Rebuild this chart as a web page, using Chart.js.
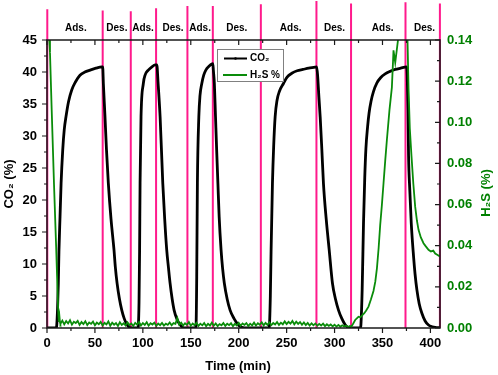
<!DOCTYPE html>
<html><head><meta charset="utf-8">
<script src="https://cdn.jsdelivr.net/npm/chart.js@4.4.0/dist/chart.umd.min.js"></script>
<style>html,body{margin:0;padding:0;background:#fff;}#wrap{width:498px;height:375px;}</style>
</head><body><div id="wrap"><canvas id="c" width="498" height="375"></canvas></div>
<script>
// CO2 (%) vs time (min)
const co2Time = [0, 9.5, 10.1, 11, 11.8, 12.5, 13.6, 14.7, 16.4, 18, 19.8, 22.5, 25.8, 29.5, 34.4, 39.5, 44.9, 51, 57.1, 58.1, 58.8, 60.5, 62, 64, 66.8, 69.9, 71.3, 73.1, 75.5, 78, 80.5, 83.5, 86, 88,
 95, 95.3, 96, 96.6, 97.1, 98.1, 100.5, 102.5, 105.7, 109.5, 112.7, 114.6, 115.8, 118, 120.8, 122.8, 124.9, 126.8, 128.4, 130.5, 132.6, 135.5, 138.8, 141.5, 144, 155,
 155.5, 156.2, 156.9, 158.4, 159.6, 161.5, 163.5, 165.7, 169, 171.9, 173, 173.6, 174.6, 175.8, 177, 178.3, 179.6, 181.6, 183.2, 185, 188, 191, 195, 199.5, 203, 206, 231.5,
 232, 233, 233.8, 235.2, 236.5, 238, 240, 242.5, 246.7, 250.5, 255.4, 261, 267, 273, 279.7, 281.3, 282.3, 283.5, 285, 286.7, 288.4, 291.3, 294.4, 297.8, 301, 304.1, 307.5, 311.1, 314, 317, 327,
 327.5, 328.8, 330.2, 331.5, 332.7, 334.5, 336, 338, 340.5, 344.2, 348, 352.8, 358, 363.3, 369, 375, 375.8, 376.6, 377.2, 378.5, 380, 382.4, 384, 385.9, 388.3, 391.1, 394.5, 398, 402, 405, 410];
const co2Values = [0, 0, 0.3, 3, 7, 12.2, 17.4, 22.6, 27.8, 31, 33, 35.4, 37.2, 38.4, 39.5, 40.0, 40.3, 40.6, 40.8, 40.8, 38.2, 33, 28, 22.6, 17, 12.2, 9.5, 7, 4.6, 2.8, 1.5, 0.5, 0.1, 0,
 0, 0.3, 4, 12, 22.6, 33, 38.2, 39.6, 40.3, 40.8, 41.1, 41.1, 38.5, 33, 22.6, 17, 12.2, 9.3, 7, 4.6, 2.8, 1.4, 0.5, 0.1, 0, 0,
 0.3, 8, 22.6, 33, 36.3, 38.2, 39.5, 40.3, 40.9, 41.25, 41.3, 40.2, 38.2, 33, 27.8, 22.6, 17.4, 12.2, 9.3, 7, 4.5, 2.8, 1.5, 0.5, 0.1, 0, 0,
 0.3, 5, 12.2, 22.6, 28.5, 33, 35.6, 37, 38.2, 39.2, 39.8, 40.2, 40.4, 40.6, 40.75, 40.8, 39.5, 36.5, 33, 28, 22.6, 17, 12.2, 7, 4.5, 2.8, 1.5, 0.5, 0.1, 0, 0,
 0.5, 6, 16.4, 23.5, 28, 31.5, 33.6, 35.4, 36.9, 38.3, 39.1, 39.7, 40.1, 40.4, 40.6, 40.8, 39.5, 34, 26.9, 21.5, 16.4, 11.2, 8.4, 5.95, 3.8, 2.3, 1.1, 0.47, 0.2, 0.1, 0.05];

// H2S (%) vs time (min)
const h2sTime = [1.8, 2.4, 3.1, 4.9, 7.3, 9.5, 11, 11.8, 12.4, 13, 13.6,
 14, 16, 18, 20, 22, 24, 26, 28, 30, 32, 34, 36, 38, 40, 42, 44, 46, 48, 50, 52, 54, 56, 58, 60, 62, 64, 66, 68, 70, 72, 74, 76, 78, 80, 82, 84, 86, 88, 90, 92, 94, 96, 98, 100,
 102, 104, 106, 108, 110, 112, 114, 116, 118, 120, 122, 124, 126, 128, 130, 132, 134, 136, 138, 140, 142, 144, 146, 148, 150, 152, 154, 156, 158, 160, 162, 164, 166, 168, 170, 172, 174, 176, 178, 180, 182, 184, 186, 188, 190, 192, 194, 196, 198, 200,
 202, 204, 206, 208, 210, 212, 214, 216, 218, 220, 222, 224, 226, 228, 230, 232, 234, 236, 238, 240, 242, 244, 246, 248, 250, 252, 254, 256, 258, 260, 262, 264, 266, 268, 270, 272, 274, 276, 278, 280, 282, 284, 286, 288, 290, 292, 294, 296, 298, 300,
 302, 304, 306, 308, 310, 312, 314, 316,
 317.4, 319.5, 321.5, 323.5, 325, 327, 329, 331, 333, 335.4, 338, 340.6, 342.5, 344.2, 346, 347.6, 349.4, 351.1, 352.8, 354.6, 357.3, 359.8, 361.5, 363.3, 366.7, 369, 372, 375, 376.1, 377.2, 378.5, 380.2, 382.2, 384.1, 386, 387.6, 390, 392.8, 395, 398, 400.5, 403, 405, 407.5, 410];
const h2sValues = [0.150, 0.140, 0.134, 0.106, 0.070, 0.040, 0.018, 0.007, 0.003, 0.0055, 0.0025,
 0.0020, 0.0036, 0.0018, 0.0034, 0.0022, 0.0038, 0.0016, 0.0030, 0.0024, 0.0035, 0.0015, 0.0029, 0.0019, 0.0033, 0.0014, 0.0027, 0.0020, 0.0031, 0.0013, 0.0026, 0.0018, 0.0030, 0.0012, 0.0025, 0.0017, 0.0032, 0.0011, 0.0026, 0.0016, 0.0024, 0.0010, 0.0028, 0.0015, 0.0023, 0.0012, 0.0027, 0.0014, 0.0022, 0.0010, 0.0025, 0.0016, 0.0029, 0.0012, 0.0024,
 0.0015, 0.0028, 0.0011, 0.0023, 0.0017, 0.0026, 0.0010, 0.0022, 0.0014, 0.0025, 0.0012, 0.0021, 0.0015, 0.0027, 0.0013, 0.0024, 0.0020, 0.0048, 0.0016, 0.0026, 0.0012, 0.0023, 0.0015, 0.0029, 0.0011, 0.0022, 0.0014, 0.0025, 0.0010, 0.0021, 0.0013, 0.0024, 0.0009, 0.0020, 0.0012, 0.0026, 0.0011, 0.0022, 0.0009, 0.0019, 0.0013, 0.0024, 0.0010, 0.0021, 0.0014, 0.0023, 0.0009, 0.0020, 0.0012, 0.0025,
 0.0011, 0.0022, 0.0015, 0.0024, 0.0010, 0.0021, 0.0013, 0.0026, 0.0012, 0.0023, 0.0016, 0.0028, 0.0013, 0.0025, 0.0015, 0.0027, 0.0014, 0.0024, 0.0017, 0.0029, 0.0015, 0.0026, 0.0018, 0.0032, 0.0019, 0.0030, 0.0021, 0.0034, 0.0018, 0.0031, 0.0020, 0.0029, 0.0016, 0.0027, 0.0014, 0.0025, 0.0012, 0.0023, 0.0013, 0.0022, 0.0011, 0.0020, 0.0012, 0.0021, 0.0009, 0.0018, 0.0010, 0.0017, 0.0008, 0.0016,
 0.0007, 0.0015, 0.0006, 0.0013, 0.0007, 0.0012, 0.0005, 0.0010,
 0.0006, 0.0022, 0.0039, 0.0048, 0.0055, 0.0052, 0.0063, 0.0072, 0.0085, 0.0104, 0.0140, 0.0180, 0.0225, 0.029, 0.039, 0.050, 0.060, 0.0705, 0.081, 0.0915, 0.106, 0.117, 0.135, 0.129, 0.142, 0.152, 0.158, 0.152, 0.140, 0.116, 0.097, 0.084, 0.070, 0.059, 0.052, 0.0477, 0.0440, 0.0412, 0.0398, 0.0380, 0.0372, 0.0376, 0.0362, 0.0355, 0.0347];

// Ads./Des. switching times and annotations
const switchTimes = [0.3, 58.1, 87.4, 113.8, 146.5, 173.0, 223.1, 281.1, 317.2, 374.0, 409.9];
const switchTops = [49.8, 49.6, 49.5, 49.95, 50.3, 50.3, 50.6, 51.1, 50.7, 50.9, 50.7];
const phaseLabels = ['Ads.', 'Des.', 'Ads.', 'Des.', 'Ads.', 'Des.', 'Ads.', 'Des.', 'Ads.', 'Des.'];
const phaseTimes = [30.1, 72.9, 100.2, 131.5, 159.7, 198, 254.2, 299.9, 350.2, 393.8];

// tick labels
const xTickValues = [0, 50, 100, 150, 200, 250, 300, 350, 400];
const yTickValues = [0, 5, 10, 15, 20, 25, 30, 35, 40, 45];
const y1TickValues = [0, 0.02, 0.04, 0.06, 0.08, 0.10, 0.12, 0.14];

const FONT = "'Liberation Sans', Arial, Helvetica, sans-serif";
const GREEN_TXT = '#008000';
const GREEN_LINE = '#0a8c0a';
const PINK = '#ff1a8c';

const pinkSets = switchTimes.map((t, i) => ({
  label: 'switch' + i,
  data: [{x: t, y: 0}, {x: t, y: switchTops[i]}],
  borderColor: PINK, borderWidth: 2, pointRadius: 0, clip: false,
  yAxisID: 'y', order: 3
}));

const decor = {
  id: 'decor',
  afterDraw(chart) {
    const ctx = chart.ctx, a = chart.chartArea;
    const xs = chart.scales.x, ys = chart.scales.y, y1 = chart.scales.y1;
    ctx.save();
    // frame
    ctx.strokeStyle = '#1a1a1a'; ctx.lineWidth = 1.5;
    ctx.strokeRect(a.left, a.top, a.right - a.left, a.bottom - a.top);
    ctx.lineWidth = 1.2;
    const minorOf = (vals) => { const m = []; for (let i = 0; i < vals.length - 1; i++) m.push((vals[i] + vals[i+1]) / 2); return m; };
    const xMaj = xs.ticks.map(t => t.value), xMin = minorOf(xMaj).concat([xMaj[xMaj.length-1] + (xMaj[1]-xMaj[0])/2]).filter(v => v <= xs.max);
    ctx.beginPath();
    xMaj.forEach(v => { const p = xs.getPixelForValue(v); ctx.moveTo(p, a.bottom); ctx.lineTo(p, a.bottom + 5); ctx.moveTo(p, a.top); ctx.lineTo(p, a.top + 5); });
    xMin.forEach(v => { const p = xs.getPixelForValue(v); ctx.moveTo(p, a.bottom); ctx.lineTo(p, a.bottom + 3); ctx.moveTo(p, a.top); ctx.lineTo(p, a.top + 3); });
    const yMaj = ys.ticks.map(t => t.value), yMin = minorOf(yMaj);
    yMaj.forEach(v => { const p = ys.getPixelForValue(v); ctx.moveTo(a.left, p); ctx.lineTo(a.left - 5, p); });
    yMin.forEach(v => { const p = ys.getPixelForValue(v); ctx.moveTo(a.left, p); ctx.lineTo(a.left - 3, p); });
    const rMaj = y1.ticks.map(t => t.value), rMin = minorOf(rMaj);
    rMaj.forEach(v => { const p = y1.getPixelForValue(v); ctx.moveTo(a.right, p); ctx.lineTo(a.right - 5, p); });
    rMin.forEach(v => { const p = y1.getPixelForValue(v); ctx.moveTo(a.right, p); ctx.lineTo(a.right - 3, p); });
    ctx.stroke();

    // phase labels
    ctx.fillStyle = '#000'; ctx.font = 'bold 10px ' + FONT;
    ctx.textAlign = 'center'; ctx.textBaseline = 'middle';
    phaseLabels.forEach((s, i) => ctx.fillText(s, xs.getPixelForValue(phaseTimes[i]), 28));

    // axis titles
    ctx.font = 'bold 13px ' + FONT;
    ctx.fillText('Time (min)', 238, 366);
    ctx.save(); ctx.translate(9, 184); ctx.rotate(-Math.PI / 2);
    ctx.fillText('CO\u2082 (%)', 0, 0); ctx.restore();
    ctx.save(); ctx.translate(486, 193); ctx.rotate(-Math.PI / 2);
    ctx.fillStyle = GREEN_TXT; ctx.fillText('H\u2082S (%)', 0, 0); ctx.restore();

    // legend
    ctx.fillStyle = '#fff'; ctx.fillRect(217.5, 49.5, 66, 32);
    ctx.strokeStyle = '#808080'; ctx.lineWidth = 1; ctx.strokeRect(217.5, 49.5, 66, 32);
    ctx.strokeStyle = '#000'; ctx.lineWidth = 2;
    ctx.beginPath(); ctx.moveTo(224, 58.5); ctx.lineTo(247, 58.5); ctx.stroke();
    ctx.fillStyle = '#000'; ctx.beginPath(); ctx.arc(235.5, 58.5, 1.3, 0, Math.PI * 2); ctx.fill();
    ctx.strokeStyle = GREEN_LINE; ctx.lineWidth = 2;
    ctx.beginPath(); ctx.moveTo(223, 75); ctx.lineTo(247, 75); ctx.stroke();
    ctx.fillStyle = '#000'; ctx.font = 'bold 10px ' + FONT; ctx.textAlign = 'left';
    ctx.fillText('CO\u2082', 250, 58.5);
    ctx.fillText('H\u2082S %', 250, 75);
    ctx.restore();
  }
};

new Chart(document.getElementById('c'), {
  type: 'line',
  data: {
    datasets: [
      { label: 'H\u2082S %', data: h2sTime.map((t, i) => ({x: t, y: h2sValues[i]})), borderColor: GREEN_LINE, borderWidth: 1.8, pointRadius: 0, yAxisID: 'y1', order: 0, tension: 0 },
      { label: 'CO\u2082', data: co2Time.map((t, i) => ({x: t, y: co2Values[i]})), borderColor: '#000', borderWidth: 2.8, pointRadius: 0, yAxisID: 'y', order: 1, cubicInterpolationMode: 'monotone' },
      ...pinkSets
    ]
  },
  options: {
    responsive: false, animation: false, devicePixelRatio: 1,
    layout: { padding: { top: 40, left: 0, right: 0, bottom: 0 } },
    plugins: { legend: { display: false }, tooltip: { enabled: false }, title: { display: false } },
    scales: {
      x: {
        type: 'linear', position: 'bottom', min: 0, max: 410,
        grid: { display: false, drawTicks: false }, border: { display: false },
        ticks: { color: '#000', font: { family: FONT, size: 13, weight: 'bold' }, padding: 8, maxRotation: 0, autoSkip: false },
        afterBuildTicks: s => { s.ticks = xTickValues.map(v => ({ value: v })); },
        afterFit: s => { s.height = 47; }
      },
      y: {
        type: 'linear', position: 'left', min: 0, max: 45,
        grid: { display: false, drawTicks: false }, border: { display: false },
        ticks: { color: '#000', font: { family: FONT, size: 13, weight: 'bold' }, padding: 10, autoSkip: false },
        afterBuildTicks: s => { s.ticks = yTickValues.map(v => ({ value: v })); },
        afterFit: s => { s.width = 47; }
      },
      y1: {
        type: 'linear', position: 'right', min: 0, max: 0.14,
        grid: { display: false, drawTicks: false }, border: { display: false },
        ticks: { color: GREEN_TXT, font: { family: FONT, size: 13, weight: 'bold' }, padding: 7, autoSkip: false, callback: v => Number(v).toFixed(2) },
        afterBuildTicks: s => { s.ticks = y1TickValues.map(v => ({ value: v })); },
        afterFit: s => { s.width = 58; }
      }
    }
  },
  plugins: [decor]
});
</script></body></html>
